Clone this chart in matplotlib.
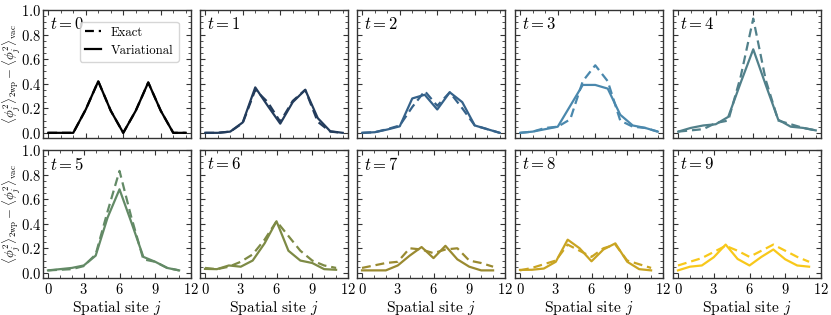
import matplotlib
matplotlib.use("Agg")
import matplotlib.pyplot as plt
from matplotlib.ticker import MultipleLocator

plt.rcParams['font.family'] = ['cmr10', 'DejaVu Serif']
plt.rcParams['mathtext.fontset'] = 'cm'
plt.rcParams['axes.formatter.use_mathtext'] = True

sites = list(range(12))
times = [0, 1, 2, 3, 4, 5, 6, 7, 8, 9]
colors = ['#000000', '#233c5c', '#35628a', '#4a88ad', '#51808a',
          '#638a66', '#7d8a45', '#9a8a30', '#c9a422', '#f8c81a']

exact = [
    [0, 0, 0, 0.19, 0.42, 0.18, 0, 0.18, 0.41, 0.18, 0, 0],
    [0, 0, 0.01, 0.08, 0.35, 0.25, 0.09, 0.26, 0.35, 0.09, 0.01, 0],
    [0, 0.005, 0.03, 0.06, 0.21, 0.34, 0.22, 0.33, 0.20, 0.06, 0.03, 0.0],
    [0, 0.01, 0.04, 0.05, 0.11, 0.42, 0.55, 0.42, 0.10, 0.05, 0.04, 0.01],
    [0.01, 0.02, 0.03, 0.08, 0.10, 0.46, 0.93, 0.43, 0.10, 0.07, 0.04, 0.02],
    [0.02, 0.025, 0.03, 0.055, 0.15, 0.50, 0.83, 0.45, 0.11, 0.09, 0.04, 0.02],
    [0.04, 0.03, 0.05, 0.09, 0.15, 0.27, 0.42, 0.30, 0.18, 0.10, 0.06, 0.04],
    [0.04, 0.06, 0.08, 0.09, 0.20, 0.19, 0.16, 0.19, 0.20, 0.10, 0.08, 0.05],
    [0.02, 0.04, 0.07, 0.10, 0.23, 0.18, 0.13, 0.20, 0.23, 0.10, 0.07, 0.04],
    [0.06, 0.09, 0.12, 0.17, 0.22, 0.18, 0.13, 0.18, 0.23, 0.18, 0.13, 0.09],
]
variational = [
    [0, 0, 0, 0.19, 0.42, 0.18, 0, 0.18, 0.41, 0.18, 0, 0],
    [0, 0, 0.01, 0.085, 0.37, 0.22, 0.075, 0.25, 0.35, 0.12, 0.013, 0],
    [0, 0.005, 0.027, 0.053, 0.28, 0.31, 0.19, 0.33, 0.25, 0.06, 0.03, 0.0],
    [0, 0.01, 0.03, 0.05, 0.22, 0.39, 0.39, 0.36, 0.147, 0.06, 0.04, 0.01],
    [0.01, 0.04, 0.06, 0.07, 0.13, 0.41, 0.68, 0.39, 0.107, 0.05, 0.04, 0.02],
    [0.02, 0.03, 0.04, 0.06, 0.14, 0.45, 0.68, 0.41, 0.13, 0.09, 0.04, 0.02],
    [0.032, 0.03, 0.06, 0.05, 0.10, 0.24, 0.42, 0.18, 0.10, 0.08, 0.03, 0.025],
    [0.02, 0.02, 0.02, 0.06, 0.14, 0.21, 0.12, 0.22, 0.11, 0.05, 0.02, 0.02],
    [0.024, 0.025, 0.035, 0.09, 0.27, 0.20, 0.094, 0.19, 0.24, 0.09, 0.03, 0.02],
    [0.02, 0.05, 0.06, 0.127, 0.23, 0.113, 0.06, 0.13, 0.19, 0.11, 0.06, 0.05],
]
xticks = [0, 3, 6, 9, 12]
yticks = [0.0, 0.2, 0.4, 0.6, 0.8, 1.0]
ylabel = r'$\langle \phi_j^2\rangle_{\rm 2wp} - \langle \phi_j^2\rangle_{\rm vac}$'
xlabel = r'Spatial site $j$'

fig = plt.figure(figsize=(8.31, 3.15), dpi=100)
W, H = 831, 315
lefts = [43, 200, 357, 515, 673]
pw = 148
tops = [10, 150]
ph = 128

for k, t in enumerate(times):
    r, c = divmod(k, 5)
    ax = fig.add_axes([lefts[c] / W, 1 - (tops[r] + ph) / H, pw / W, ph / H])
    ax.plot(sites, exact[k], ls='--', color=colors[k], lw=1.6, dashes=(4, 2.2), label='Exact')
    ax.plot(sites, variational[k], ls='-', color=colors[k], lw=1.6, label='Variational')
    ax.set_xticks(xticks)
    ax.set_yticks(yticks)
    if r == 0:
        ax.set_xlim(-0.42, 11.42)
    else:
        ax.set_xlim(-0.42, 12.0)
    ax.set_ylim(-0.042, 1.0)
    ax.xaxis.set_minor_locator(MultipleLocator(1))
    ax.yaxis.set_minor_locator(MultipleLocator(0.05))
    ax.tick_params(which='both', direction='in', top=True, right=True, labelsize=10.5, color='#333333')
    ax.tick_params(axis='y', pad=1.5)
    ax.tick_params(axis='x', pad=3)
    ax.tick_params(which='major', length=3.5, width=0.8)
    ax.tick_params(which='minor', length=2, width=0.6)
    for s in ax.spines.values():
        s.set_linewidth(1.0)
        s.set_color('#333333')
    if c != 0:
        ax.set_yticklabels([])
    else:
        ax.set_ylabel(ylabel, fontsize=9.2)
        ax.yaxis.set_label_coords(-0.143, 0.5)
    if r == 0:
        ax.set_xticklabels([])
    else:
        ax.set_xlabel(xlabel, fontsize=11.2, labelpad=1)
    ax.text(0.05, 0.95, r'$t = %d$' % t, transform=ax.transAxes, ha='left', va='top', fontsize=12)
    if k == 0:
        ax.legend(loc='upper right', bbox_to_anchor=(0.96, 0.96), fontsize=9.2,
                  handlelength=1.3, handletextpad=0.75, borderpad=0.4,
                  labelspacing=0.45, framealpha=0.8, fancybox=True)

fig.savefig('out.png', dpi=100)
